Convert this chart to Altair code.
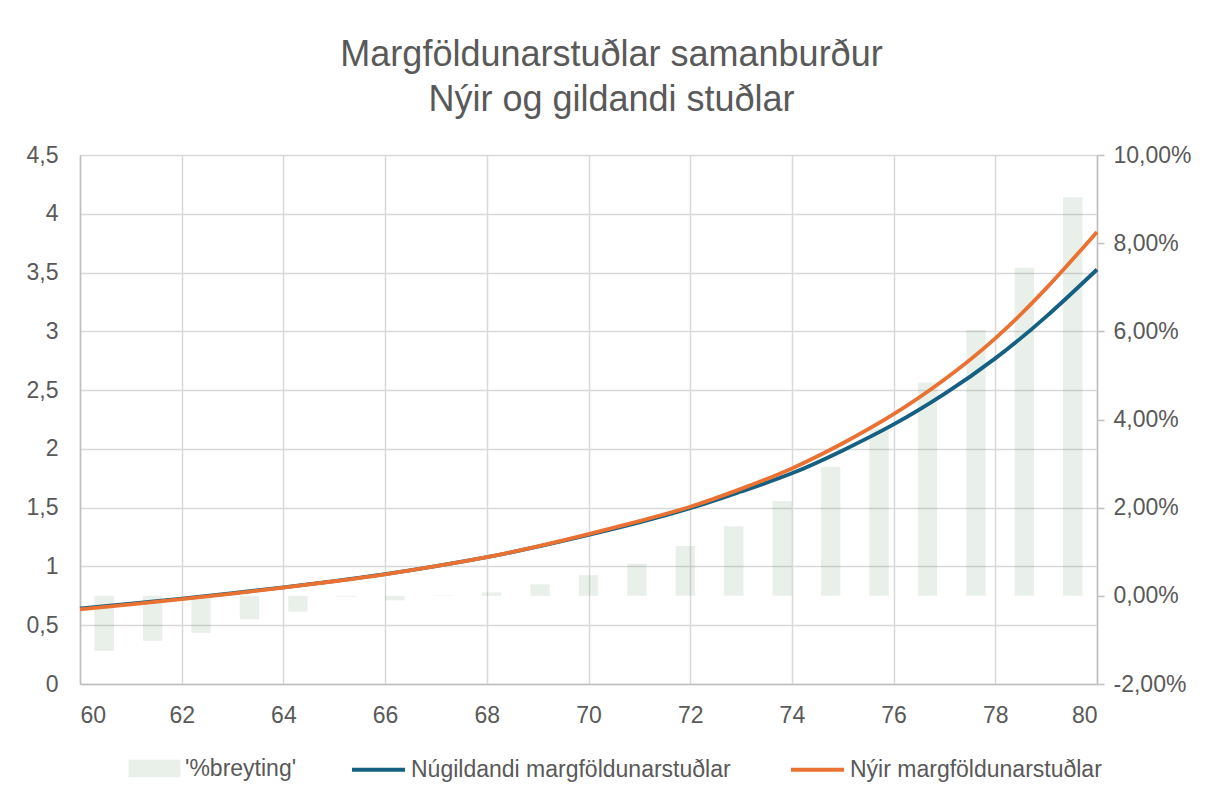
import altair as alt
import pandas as pd

# ---- data ----
ages = list(range(60, 81))
# '%breyting' in percent
pct_change = [-1.25, -1.02, -0.84, -0.53, -0.36, -0.02, -0.10, 0.01, 0.08, 0.26,
              0.47, 0.73, 1.13, 1.58, 2.15, 2.92, 3.80, 4.84, 6.03, 7.44, 9.04]
current_factor = [0.643, 0.684, 0.727, 0.773, 0.822, 0.876, 0.935, 1.003, 1.079, 1.168,
                  1.268, 1.375, 1.495, 1.637, 1.792, 1.987, 2.208, 2.468, 2.770, 3.125, 3.526]
new_factor = [0.635, 0.677, 0.722, 0.769, 0.819, 0.874, 0.933, 1.002, 1.079, 1.171,
              1.275, 1.386, 1.508, 1.660, 1.834, 2.048, 2.295, 2.590, 2.940, 3.365, 3.846]

bar_name = "'%breyting'"
cur_name = "Núgildandi margföldunarstuðlar"
new_name = "Nýir margföldunarstuðlar"
title_lines = ["Margföldunarstuðlar samanburður", "Nýir og gildandi stuðlar"]

x_ticks = list(range(60, 81, 2))
left_ticks = [0, 0.5, 1, 1.5, 2, 2.5, 3, 3.5, 4, 4.5]
right_ticks = [-0.02, 0, 0.02, 0.04, 0.06, 0.08, 0.10]

bar_df = pd.DataFrame({"age": ages, "pct": [p / 100 for p in pct_change], "serie": bar_name})
line_df = pd.concat([
    pd.DataFrame({"age": ages, "value": current_factor, "serie": cur_name}),
    pd.DataFrame({"age": ages, "value": new_factor, "serie": new_name}),
], ignore_index=True)

FONT = "Liberation Sans"
TXT = "#595959"
GRID = "#d9d9d9"
AXISC = "#bfbfbf"
BLUE = "#156082"
ORANGE = "#E97132"
GREEN = "#196B24"

bars = alt.Chart(bar_df).mark_bar(opacity=0.1).encode(
    x=alt.X("age:O", axis=None,
            scale=alt.Scale(paddingInner=0.6, paddingOuter=0.3)),
    y=alt.Y("pct:Q",
            scale=alt.Scale(domain=[-0.02, 0.10], nice=False, zero=False),
            axis=alt.Axis(orient="right", values=right_ticks, title=None, grid=False,
                          labelExpr="replace(replace(format(datum.value, '.2%'), '.', ','), '\u2212', '-')",
                          ticks=True, tickSize=7, tickColor=AXISC, tickWidth=1.5,
                          domain=True, domainColor=AXISC, domainWidth=1.5,
                          labelPadding=9, labelFontSize=23, labelColor=TXT, labelFont=FONT)),
    color=alt.Color("serie:N", scale=alt.Scale(domain=[bar_name], range=[GREEN]),
                    legend=alt.Legend(title=None, orient="none", legendX=57, legendY=596,
                                      direction="horizontal",
                                      symbolType="M-1.5,-0.5H1.5V0.5H-1.5Z",
                                      symbolSize=1200, symbolOpacity=0.1,
                                      symbolStrokeWidth=0, labelLimit=0,
                                      labelOffset=13, labelFontSize=23,
                                      labelColor=TXT, labelFont=FONT)),
)

lines = alt.Chart(line_df).mark_line(interpolate="natural", strokeWidth=3.8).encode(
    x=alt.X("age:Q",
            scale=alt.Scale(domain=[60, 80], nice=False, zero=False),
            axis=alt.Axis(orient="bottom", values=x_ticks, title=None, grid=True,
                          gridColor=GRID, gridWidth=1.5, ticks=False,
                          domain=True, domainColor=AXISC, domainWidth=1.5,
                          labelPadding=20, labelFontSize=23, labelColor=TXT, labelFont=FONT)),
    y=alt.Y("value:Q",
            scale=alt.Scale(domain=[0, 4.5], nice=False, zero=False),
            axis=alt.Axis(orient="left", values=left_ticks, title=None, grid=True,
                          gridColor=GRID, gridWidth=1.5, ticks=False,
                          labelExpr="replace(format(datum.value, '~g'), '.', ',')",
                          domain=True, domainColor=AXISC, domainWidth=1.5,
                          labelPadding=22, labelFontSize=23, labelColor=TXT, labelFont=FONT)),
    color=alt.Color("serie:N", sort=[cur_name, new_name],
                    scale=alt.Scale(domain=[cur_name, new_name], range=[BLUE, ORANGE]),
                    legend=alt.Legend(title=None, orient="none", legendX=270, legendY=586,
                                      direction="horizontal", symbolType="stroke",
                                      symbolSize=2809, symbolStrokeWidth=4,
                                      labelOffset=4, columnPadding=52, labelLimit=0,
                                      labelFontSize=23, labelColor=TXT, labelFont=FONT)),
)

chart = alt.layer(bars, lines).resolve_scale(
    x="independent", y="independent", color="independent"
).properties(
    width=1017, height=529,
    autosize=alt.AutoSizeParams(type="none"),
    padding={"left": 72, "top": 147, "right": 96, "bottom": 100},
    title=alt.TitleParams(text=title_lines, fontSize=36, font=FONT, color=TXT,
                          fontWeight="normal", anchor="middle", dx=23, offset=25,
                          lineHeight=45),
).configure_view(stroke=None).configure(background="white")

chart.save("out.html", embed_options={"renderer": "svg", "actions": False})
